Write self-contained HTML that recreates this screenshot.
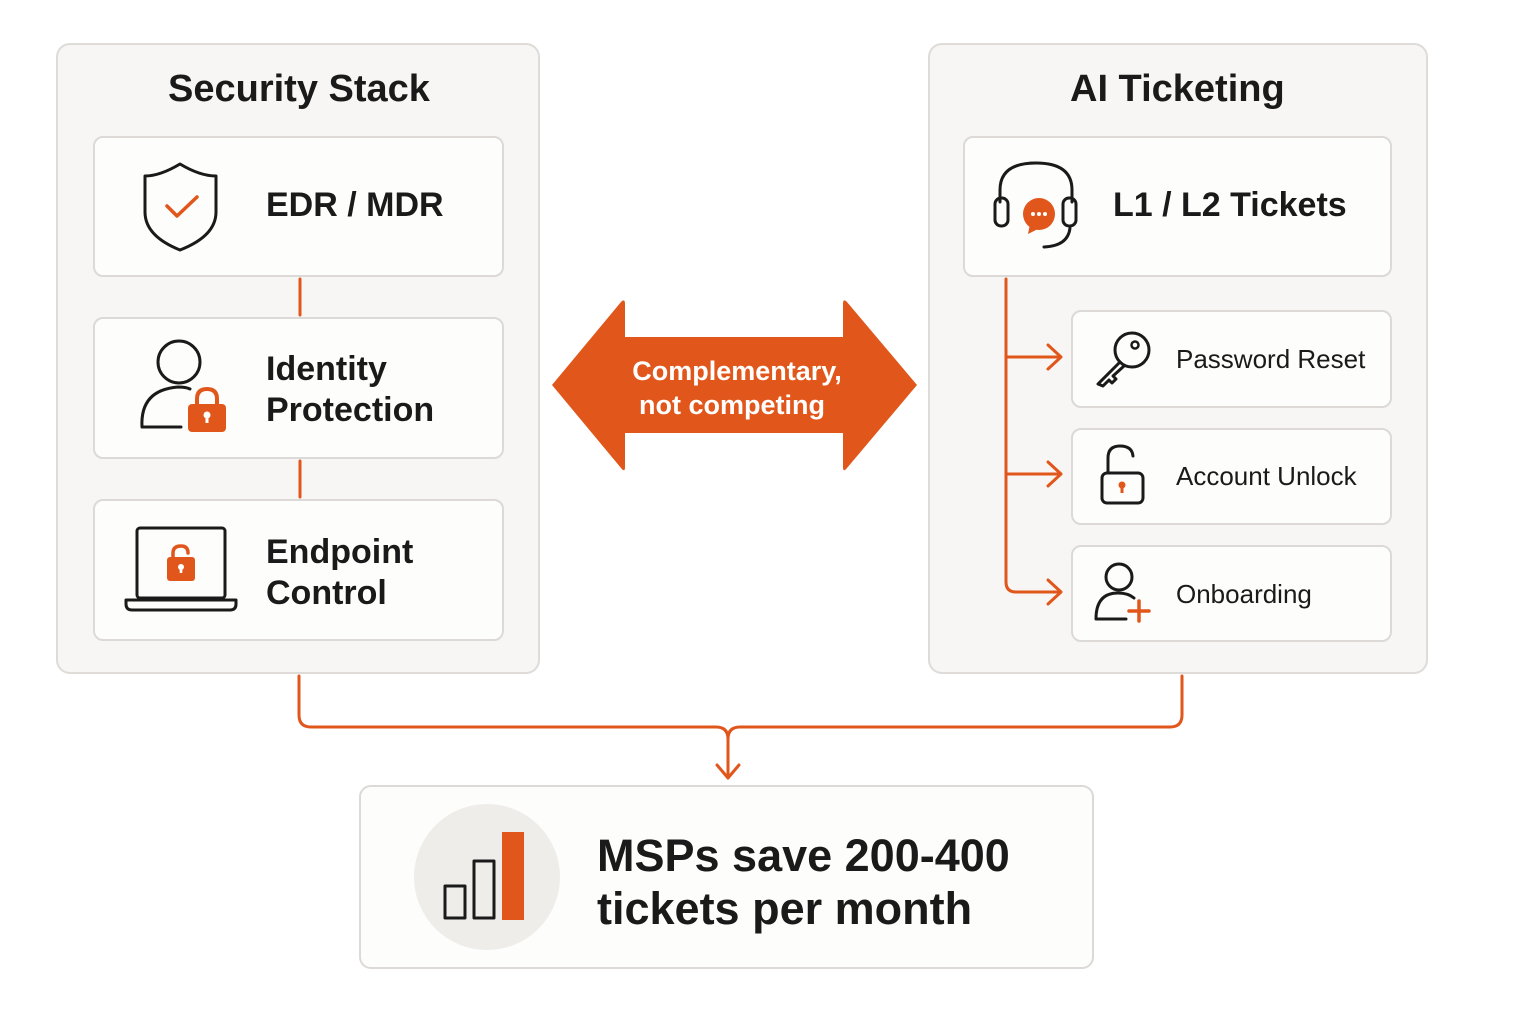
<!DOCTYPE html>
<html><head><meta charset="utf-8"><style>
body{margin:0;width:1536px;height:1024px;background:#fff;position:relative;overflow:hidden;font-family:"Liberation Sans",sans-serif;color:#1a1a1a}
.p{position:absolute;background:#f7f6f4;border:2px solid #dedbd8;border-radius:14px;box-sizing:border-box}
.c{position:absolute;background:#fdfdfc;border:2px solid #dcd9d6;border-radius:10px;box-sizing:border-box}
.t{position:absolute;font-weight:bold;white-space:nowrap}
.m{position:absolute;white-space:nowrap;font-size:26px}
</style></head><body>
<div class="p" style="left:56px;top:43px;width:484px;height:631px"></div>
<div class="p" style="left:928px;top:43px;width:500px;height:631px"></div>
<div class="t" style="left:168px;top:68px;font-size:38px">Security Stack</div>
<div class="t" style="left:1070px;top:68px;font-size:38px">AI Ticketing</div>
<div class="c" style="left:93px;top:136px;width:411px;height:141px"></div>
<div class="c" style="left:93px;top:317px;width:411px;height:142px"></div>
<div class="c" style="left:93px;top:499px;width:411px;height:142px"></div>
<div class="c" style="left:963px;top:136px;width:429px;height:141px"></div>
<div class="c" style="left:1071px;top:310px;width:321px;height:98px"></div>
<div class="c" style="left:1071px;top:428px;width:321px;height:97px"></div>
<div class="c" style="left:1071px;top:545px;width:321px;height:97px"></div>
<div class="c" style="left:359px;top:785px;width:735px;height:184px;border-radius:12px"></div>
<div class="t" style="left:266px;top:186px;font-size:34px">EDR / MDR</div>
<div class="t" style="left:266px;top:349px;font-size:34px;line-height:41px">Identity<br>Protection</div>
<div class="t" style="left:266px;top:532px;font-size:34px;line-height:41px">Endpoint<br>Control</div>
<div class="t" style="left:1113px;top:186px;font-size:34px">L1 / L2 Tickets</div>
<div class="m" style="left:1176px;top:344px">Password Reset</div>
<div class="m" style="left:1176px;top:461px">Account Unlock</div>
<div class="m" style="left:1176px;top:579px">Onboarding</div>
<div class="t" style="left:597px;top:829px;font-size:45px;line-height:53px">MSPs save 200-400<br>tickets per month</div>
<svg width="1536" height="1024" style="position:absolute;left:0;top:0" fill="none" stroke-linecap="round" stroke-linejoin="round">
<g stroke="#e1561b" stroke-width="3">
<line x1="300" y1="279" x2="300" y2="315"/><line x1="300" y1="461" x2="300" y2="497"/>
<path d="M1006 279 V582 Q1006 592 1016 592 H1060"/>
<path d="M1006 357 H1060 M1006 474 H1060"/>
<path d="M1048 345 L1061 357 L1048 369 M1048 462 L1061 474 L1048 486 M1048 580 L1061 592 L1048 604"/>
<path d="M299 676 V715 Q299 727 311 727 H716 Q728 727 728 739 V778 M728 739 Q728 727 740 727 H1170 Q1182 727 1182 715 V676"/>
<path d="M717 765 L728 778 L739 765"/>
</g>
<path d="M552 385 L621 302 Q625 298 625 304 V337 H843 V304 Q843 298 847 302 L917 385 L847 468 Q843 473 843 467 V433 H625 V467 Q625 473 621 468 Z" fill="#e1561b"/>
<text x="737" y="380" text-anchor="middle" font-family="Liberation Sans" font-weight="bold" font-size="27" fill="#fff">Complementary,</text>
<text x="732" y="414" text-anchor="middle" font-family="Liberation Sans" font-weight="bold" font-size="27" fill="#fff">not competing</text>
<path d="M180 164 Q160 176 145 176 V212 Q145 236 180 250 Q216 236 216 212 V176 Q200 176 180 164Z" stroke="#1a1a1a" stroke-width="3"/>
<path d="M167 206 L177 216 L197 197" stroke="#e1561b" stroke-width="3.5"/>
<circle cx="179" cy="362" r="21" stroke="#1a1a1a" stroke-width="3"/>
<path d="M181 427 H142 Q140 390 178 387 Q186 387 190 389" stroke="#1a1a1a" stroke-width="3"/>
<path d="M197 406 V399 Q197 389 207 389 Q217 389 217 399 V406" stroke="#e1561b" stroke-width="4"/>
<rect x="188" y="404" width="38" height="28" rx="4" fill="#e1561b"/>
<circle cx="207" cy="415" r="3.5" fill="#fff"/><rect x="205.5" y="415" width="3" height="8" fill="#fff"/>
<rect x="137" y="528" width="88" height="70" rx="3" stroke="#1a1a1a" stroke-width="3"/>
<path d="M126 600 H236 V604 Q236 610 230 610 H132 Q126 610 126 604Z" stroke="#1a1a1a" stroke-width="3"/>
<path d="M173 559 V553 Q173 546 181 546 Q188 546 188 553" stroke="#e1561b" stroke-width="3.5"/>
<rect x="167" y="557" width="28" height="24" rx="3" fill="#e1561b"/>
<circle cx="181" cy="567" r="3" fill="#fff"/><rect x="179.7" y="567" width="2.6" height="6" fill="#fff"/>
<path d="M1000 202 V190 Q1000 163 1036 163 Q1072 163 1072 190 V202" stroke="#1a1a1a" stroke-width="3"/>
<rect x="995" y="198" width="13" height="28" rx="6" stroke="#1a1a1a" stroke-width="3"/>
<rect x="1063" y="198" width="13" height="28" rx="6" stroke="#1a1a1a" stroke-width="3"/>
<path d="M1070 228 Q1068 246 1044 247" stroke="#1a1a1a" stroke-width="3"/>
<circle cx="1039" cy="214" r="16" fill="#e1561b"/><path d="M1030 224 L1028 234 L1040 228Z" fill="#e1561b"/>
<g fill="#fff"><circle cx="1033" cy="214" r="2"/><circle cx="1039" cy="214" r="2"/><circle cx="1045" cy="214" r="2"/></g>
<circle cx="1132" cy="350" r="17" stroke="#1a1a1a" stroke-width="3"/><circle cx="1135" cy="345" r="3.5" stroke="#1a1a1a" stroke-width="2.5"/>
<path d="M1120 362 L1098 384 L1103 386 L1109 380 L1112 383 L1116 379 L1113 376 L1124 366" stroke="#1a1a1a" stroke-width="3"/>
<rect x="1102" y="473" width="41" height="30" rx="5" stroke="#1a1a1a" stroke-width="3"/>
<path d="M1108 473 V458 Q1108 446 1120 446 Q1132 446 1133 456" stroke="#1a1a1a" stroke-width="3"/>
<circle cx="1122" cy="485" r="3.5" fill="#e1561b"/><rect x="1120.5" y="485" width="3" height="8" fill="#e1561b"/>
<circle cx="1119" cy="577" r="13" stroke="#1a1a1a" stroke-width="3"/>
<path d="M1126 619 H1096 Q1096 593 1118 593 Q1128 593 1134 598" stroke="#1a1a1a" stroke-width="3"/>
<path d="M1139 601 V621 M1129 611 H1149" stroke="#e1561b" stroke-width="3.5"/>
<circle cx="487" cy="877" r="73" fill="#efedea" stroke="none"/>
<rect x="445" y="886" width="20" height="32" stroke="#1a1a1a" stroke-width="3"/>
<rect x="474" y="861" width="20" height="57" stroke="#1a1a1a" stroke-width="3"/>
<rect x="502" y="832" width="22" height="88" fill="#e1561b"/>
</svg>
</body></html>
